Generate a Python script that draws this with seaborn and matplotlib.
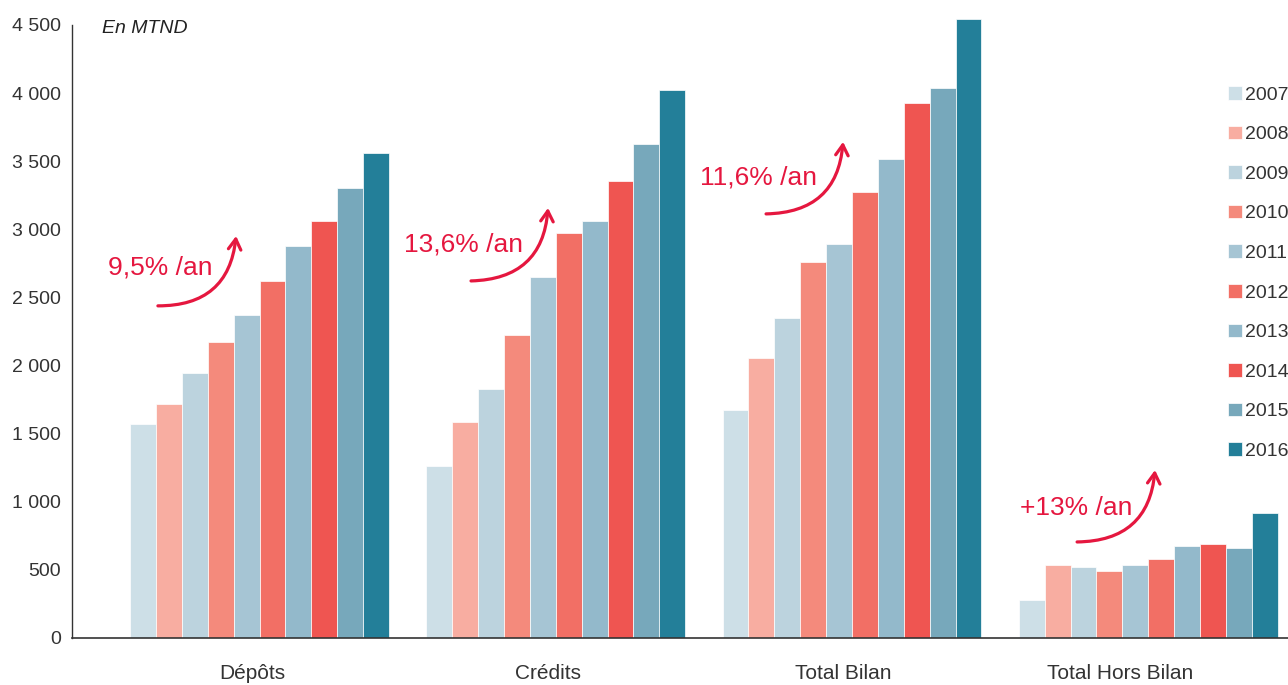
import seaborn as sns
import matplotlib.pyplot as plt
import pandas as pd

# Données (en MTND)
categories = ["Dépôts", "Crédits", "Total Bilan", "Total Hors Bilan"]
annees = ["2007", "2008", "2009", "2010", "2011", "2012", "2013", "2014", "2015", "2016"]
depots = [1571, 1718, 1946, 2173, 2371, 2621, 2878, 3062, 3304, 3561]
credits = [1263, 1586, 1828, 2225, 2651, 2974, 3062, 3355, 3627, 4023]
total_bilan = [1674, 2056, 2349, 2761, 2893, 3275, 3517, 3928, 4038, 4545]
hors_bilan = [279, 536, 521, 492, 536, 580, 675, 690, 661, 918]
croissance = ["9,5% /an", "13,6% /an", "11,6% /an", "+13% /an"]

couleurs = ["#cddfe7", "#f8ada1", "#bcd3de", "#f48a7c", "#a6c5d4",
            "#f26f65", "#93b9cb", "#ef5551", "#77a8bb", "#237f99"]

series = [depots, credits, total_bilan, hors_bilan]
rows = []
for cat, vals in zip(categories, series):
    for an, v in zip(annees, vals):
        rows.append({"cat": cat, "annee": an, "val": v})
df = pd.DataFrame(rows)

sns.set_style("white")
plt.rcParams["font.family"] = ["Liberation Sans", "DejaVu Sans"]
gris = "#333333"
rouge = "#e5173f"

fig = plt.figure(figsize=(12.88, 6.85), dpi=100)
ax = fig.add_axes([72 / 1288, 47 / 685, 1 - 72 / 1288, 632 / 685])

sns.barplot(data=df, x="cat", y="val", hue="annee", hue_order=annees,
            palette=couleurs, saturation=1, width=0.874, gap=0,
            edgecolor="white", linewidth=0.5, ax=ax)

ax.set_xlim(-0.633, 3.472)
ax.set_ylim(0, 4639)
ax.set_yticks(range(0, 4501, 500))
ax.set_yticklabels([f"{v:,}".replace(",", " ") for v in range(0, 4501, 500)])
# libellés légèrement décalés à gauche comme dans l'original
ax.set_xticks([-0.025, 0.975, 1.97, 2.905])
ax.set_xticklabels(categories)
ax.set_xlabel("")
ax.set_ylabel("")

for s in ["top", "right"]:
    ax.spines[s].set_visible(False)
ax.spines["left"].set_bounds(0, 4500)
ax.spines["left"].set_color(gris)
ax.spines["left"].set_linewidth(1)
ax.spines["bottom"].set_color(gris)
ax.spines["bottom"].set_linewidth(1.2)

ax.tick_params(axis="y", direction="in", length=13, width=1, color=gris,
               labelcolor=gris, labelsize=14, pad=8)
ax.tick_params(axis="x", length=0, labelcolor=gris, labelsize=15, pad=19)

ax.text(0.025, 0.965, "En MTND", transform=ax.transAxes, fontsize=14,
        style="italic", color="#222222", ha="left", va="center")

# Flèches de croissance
fleches = [(-0.343, 2438, -0.079, 2951, -0.511, 2717),
           (-0.286, 2621, -0.026, 3157, -0.512, 2885),
           (-0.290, 3113, -0.030, 3642, -0.513, 3377),
           (-0.240, 705, 0.023, 1233, -0.432, 954)]
for i, (lab, (sx, sy, ex, ey, tx, ty)) in enumerate(zip(croissance, fleches)):
    ax.annotate("", xy=(i + ex, ey), xytext=(i + sx, sy),
                arrowprops=dict(arrowstyle="->,head_length=0.75,head_width=0.45",
                                color=rouge, lw=2.3,
                                connectionstyle="arc3,rad=0.45",
                                shrinkA=0, shrinkB=0))
    ax.text(i + tx, ty, lab, color=rouge, fontsize=19, ha="left", va="center")

handles, labels = ax.get_legend_handles_labels()
ax.legend(handles, labels, loc="upper left", bbox_to_anchor=(1228 / 1288, 1 - 86 / 685),
          bbox_transform=fig.transFigure, frameon=False, fontsize=14,
          handlelength=0.7, handleheight=0.7, handletextpad=0.2,
          labelspacing=1.13, borderpad=0, borderaxespad=0, labelcolor=gris)

fig.savefig("out.png", dpi=100)
